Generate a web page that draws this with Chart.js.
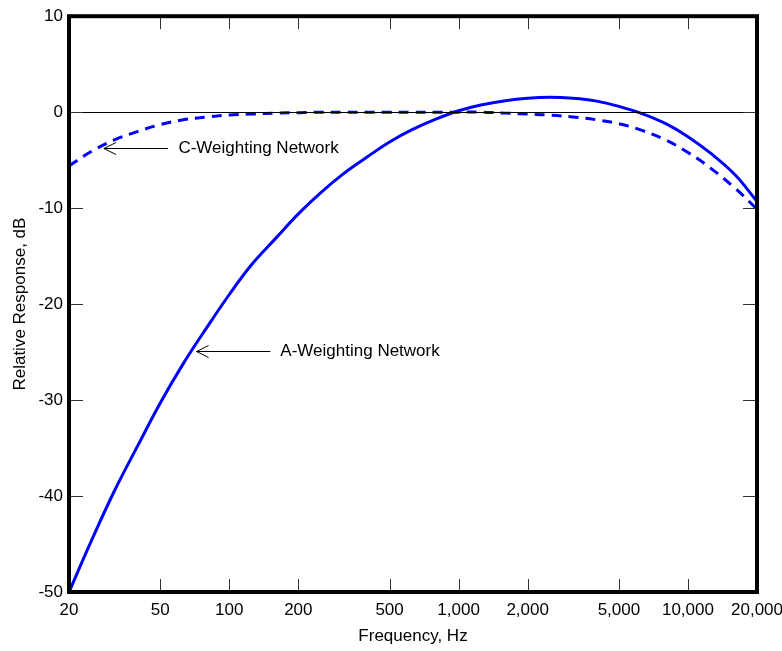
<!DOCTYPE html>
<html>
<head>
<meta charset="utf-8">
<script src="https://cdn.jsdelivr.net/npm/chart.js@4.4.1/dist/chart.umd.min.js"></script>
<style>
  html, body { margin: 0; padding: 0; background: #fff; }
  #wrap { width: 782px; height: 651px; }
</style>
</head>
<body>
<div id="wrap"><canvas id="chart" width="782" height="651"></canvas></div>
<script>
// frequencies (Hz), 1/3 octave
const freqs = [20, 25, 31.5, 40, 50, 63, 80, 100, 125, 160, 200, 250, 315, 400, 500, 630, 800,
  1000, 1250, 1600, 2000, 2500, 3150, 4000, 5000, 6300, 8000, 10000, 12500, 16000, 20000];
const aWeight = [-50.0, -44.7, -39.5, -34.7, -30.3, -26.2, -22.4, -19.0, -15.9, -13.1, -10.6, -8.4, -6.4,
  -4.65, -3.1, -1.8, -0.7, 0.15, 0.75, 1.2, 1.45, 1.55, 1.45, 1.15, 0.6, -0.15, -1.2, -2.55, -4.25, -6.5, -9.3];
const cWeight = [-5.6, -4.1, -2.9, -2.0, -1.3, -0.8, -0.5, -0.3, -0.2, -0.1, -0.05, 0.0, 0.0,
  0.0, 0.0, 0.0, 0.0, 0.0, 0.0, -0.1, -0.2, -0.3, -0.5, -0.8, -1.2, -1.9, -2.9, -4.2, -5.8, -7.9, -10.1];
const xTicks = [20, 50, 100, 200, 500, 1000, 2000, 5000, 10000, 20000];
const yTicks = [-50, -40, -30, -20, -10, 0, 10];

// callouts: [label, arrow tip x, tip y, tail x, text x]
const callouts = [
  ['C-Weighting Network', 28.4, -3.7, 54, 60],
  ['A-Weighting Network', 72, -24.9, 151, 167]
];

const FONT = '"Liberation Sans", Arial, sans-serif';

const frame = {
  id: 'frame',
  afterDatasetsDraw(chart) {
    const { ctx, chartArea: a, scales: { x, y } } = chart;
    ctx.save();
    // zero line
    ctx.strokeStyle = '#000';
    ctx.lineWidth = 1;
    const y0 = Math.round(y.getPixelForValue(0)) + 0.5;
    ctx.beginPath(); ctx.moveTo(a.left, y0); ctx.lineTo(a.right, y0); ctx.stroke();
    // inward ticks
    ctx.strokeStyle = '#333';
    ctx.beginPath();
    xTicks.forEach(v => {
      const px = Math.round(x.getPixelForValue(v)) + 0.5;
      ctx.moveTo(px, a.bottom); ctx.lineTo(px, a.bottom - 13);
      ctx.moveTo(px, a.top); ctx.lineTo(px, a.top + 13);
    });
    yTicks.forEach(v => {
      const py = Math.round(y.getPixelForValue(v)) + 0.5;
      ctx.moveTo(a.left, py); ctx.lineTo(a.left + 14, py);
      ctx.moveTo(a.right, py); ctx.lineTo(a.right - 14, py);
    });
    ctx.stroke();
    // callouts
    ctx.font = '17px ' + FONT;
    ctx.fillStyle = '#000';
    ctx.textBaseline = 'middle';
    callouts.forEach(([txt, tx, ty, sx, lx]) => {
      const px = x.getPixelForValue(tx), py = Math.round(y.getPixelForValue(ty)) + 0.5;
      const qx = x.getPixelForValue(sx);
      ctx.strokeStyle = '#000';
      ctx.lineWidth = 1;
      ctx.beginPath();
      ctx.moveTo(qx, py); ctx.lineTo(px, py);
      ctx.moveTo(px + 12, py - 6); ctx.lineTo(px, py); ctx.lineTo(px + 12, py + 6);
      ctx.stroke();
      ctx.fillText(txt, x.getPixelForValue(lx), py);
    });
    // border
    ctx.lineWidth = 4;
    ctx.strokeStyle = '#000';
    ctx.strokeRect(a.left, a.top, a.right - a.left, a.bottom - a.top);
    ctx.restore();
  }
};

new Chart(document.getElementById('chart'), {
  type: 'line',
  data: {
    datasets: [
      {
        label: 'A-Weighting Network',
        data: freqs.map((f, i) => ({ x: f, y: aWeight[i] })),
        borderColor: '#0000ff', borderWidth: 3, pointRadius: 0, tension: 0.4
      },
      {
        label: 'C-Weighting Network',
        data: freqs.map((f, i) => ({ x: f, y: cWeight[i] })),
        borderColor: '#0000ff', borderWidth: 3, borderDash: [10, 7], pointRadius: 0, tension: 0.4
      }
    ]
  },
  options: {
    responsive: false,
    animation: false,
    layout: { padding: { top: 14, right: 0, left: 6, bottom: 0 } },
    plugins: { legend: { display: false }, tooltip: { enabled: false } },
    scales: {
      x: {
        type: 'logarithmic', min: 20, max: 20000,
        afterBuildTicks: s => { s.ticks = xTicks.map(v => ({ value: v })); },
        afterFit: s => { s.height = 59; s.paddingRight = 25; s.paddingLeft = 0; },
        grid: { display: false, drawTicks: false },
        border: { display: false },
        ticks: {
          autoSkip: false, maxRotation: 0, padding: 8, color: '#000',
          font: { family: FONT, size: 17 },
          callback: v => v.toLocaleString('en-US')
        },
        title: { display: true, text: 'Frequency, Hz', color: '#000', font: { family: FONT, size: 17 }, padding: { top: 4 } }
      },
      y: {
        min: -50, max: 10,
        afterBuildTicks: s => { s.ticks = yTicks.map(v => ({ value: v })); },
        afterFit: s => { s.width = 63; },
        grid: { display: false, drawTicks: false },
        border: { display: false },
        ticks: { padding: 6, color: '#000', font: { family: FONT, size: 17 } },
        title: { display: true, text: 'Relative Response, dB', color: '#000', font: { family: FONT, size: 17 }, padding: { bottom: 8 } }
      }
    }
  },
  plugins: [frame]
});
</script>
</body>
</html>
